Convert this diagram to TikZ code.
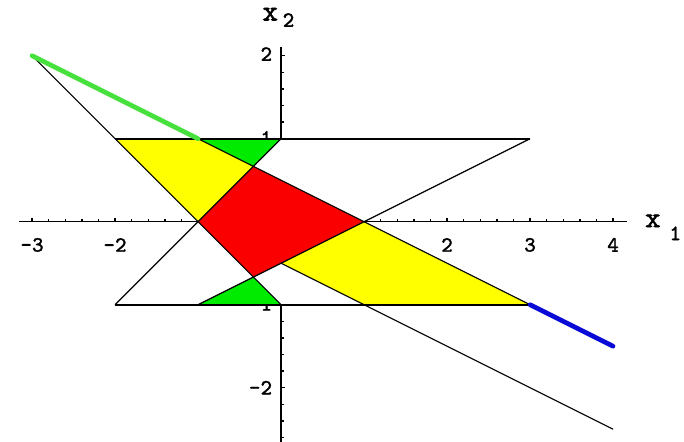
\documentclass[tikz,border=0pt]{standalone}
\usepackage{fontspec}
\newfontfamily\courfont{Latin Modern Mono}[FakeBold=1.2]
\newfontfamily\courbold{Latin Modern Mono}[FakeBold=2.2]
\definecolor{yel}{RGB}{255,255,0}
\definecolor{rd}{RGB}{250,0,0}
\definecolor{grn}{RGB}{0,235,0}
\definecolor{gline}{RGB}{70,225,60}
\definecolor{bline}{RGB}{10,10,215}
\begin{document}
\begin{tikzpicture}[x=1cm,y=1cm,
  thinline/.style={line width=0.4pt, black},
  edgeline/.style={line width=0.55pt, black},
  axisline/.style={line width=0.5pt, black},
  thickline/.style={line width=1.6pt, line cap=round},
  ticklab/.style={font=\courfont\fontsize{7.5}{8}\selectfont, inner sep=0pt},
  axlab/.style={font=\courbold\fontsize{10}{11}\selectfont, inner sep=0pt},
  sublab/.style={font=\courfont\fontsize{7.5}{8}\selectfont, inner sep=0pt}]
\useasboundingbox (-3.386,-2.654) rectangle (4.855,2.671);
% axes
\coordinate (xl) at (-3.16,0);
\coordinate (xr) at (4.17,0);
\coordinate (yt) at (0,2.1);
\coordinate (yb) at (0,-2.7);
\draw[axisline] (xl) -- (xr);
\draw[axisline] (yb) -- (yt);
\foreach \i in {-15,...,20}{
  \pgfmathsetmacro{\tl}{ifthenelse(mod(\i,5)==0,0.05,0.035)}
  \draw[axisline] (\i/5,0) -- ++(0,\tl);
}
\foreach \i in {-13,...,10}{
  \pgfmathsetmacro{\tl}{ifthenelse(mod(\i,5)==0,0.05,0.035)}
  \draw[axisline] (0,\i/5) -- ++(\tl,0);
}
% tick labels
\node[ticklab] (lxm3) at (-3,-0.28) {-3};
\node[ticklab] (lxm2) at (-2,-0.28) {-2};
\node[ticklab] (lx2) at (2,-0.28) {2};
\node[ticklab] (lx3) at (3,-0.28) {3};
\node[ticklab] (lx4) at (4,-0.28) {4};
\node[ticklab,anchor=east] (ly2) at (-0.1,2.02) {2};
\node[ticklab,anchor=east] (ly1) at (-0.1,1.01) {1};
\node[ticklab,anchor=east] (lym1) at (-0.1,-0.99) {-1};
\node[ticklab,anchor=east] (lym2) at (-0.1,-2.0) {-2};
% axis labels
\node[axlab] (x1x) at (4.48,0.01) {x};
\node[sublab] (x1s) at (4.75,-0.14) {1};
\node[axlab] (x2x) at (-0.13,2.5) {x};
\node[sublab] (x2s) at (0.09,2.43) {2};
% key points
\coordinate (A) at (-3,2);
\coordinate (B) at (-2,1);
\coordinate (C) at (-1,1);
\coordinate (D) at (0,1);
\coordinate (E) at (3,1);
\coordinate (F) at (-2,-1);
\coordinate (G) at (-1,-1);
\coordinate (H) at (0,-1);
\coordinate (I) at (1,-1);
\coordinate (J) at (3,-1);
\coordinate (K) at (-1,0);
\coordinate (L) at (1,0);
\coordinate (M) at (-1/3,2/3);
\coordinate (N) at (-1/3,-2/3);
\coordinate (P) at (0,-0.5);
\coordinate (Q) at (4,-1.5);
\coordinate (R) at (4,-2.5);
% regions
\fill[white] (F) -- (D) -- (E) -- (G) -- cycle;
\fill[white] (B) -- (C) -- (J) -- (H) -- cycle;
\fill[yel] (B) -- (C) -- (M) -- (K) -- cycle;
\fill[yel] (L) -- (J) -- (I) -- (P) -- cycle;
\fill[rd] (K) -- (M) -- (L) -- (N) -- cycle;
\fill[grn] (C) -- (D) -- (M) -- cycle;
\fill[grn] (G) -- (H) -- (N) -- cycle;
% lines
\draw[thinline] (A) -- (H);
\draw[thinline] (A) -- (Q);
\draw[thinline] (G) -- (E);
\draw[thinline] (F) -- (D);
\draw[thinline] (P) -- (R);
\draw[edgeline] (B) -- (E);
\draw[edgeline] (F) -- (J);
\draw[thickline, gline] (A) -- (C);
\draw[thickline, bline] (J) -- (Q);
\end{tikzpicture}
\end{document}
